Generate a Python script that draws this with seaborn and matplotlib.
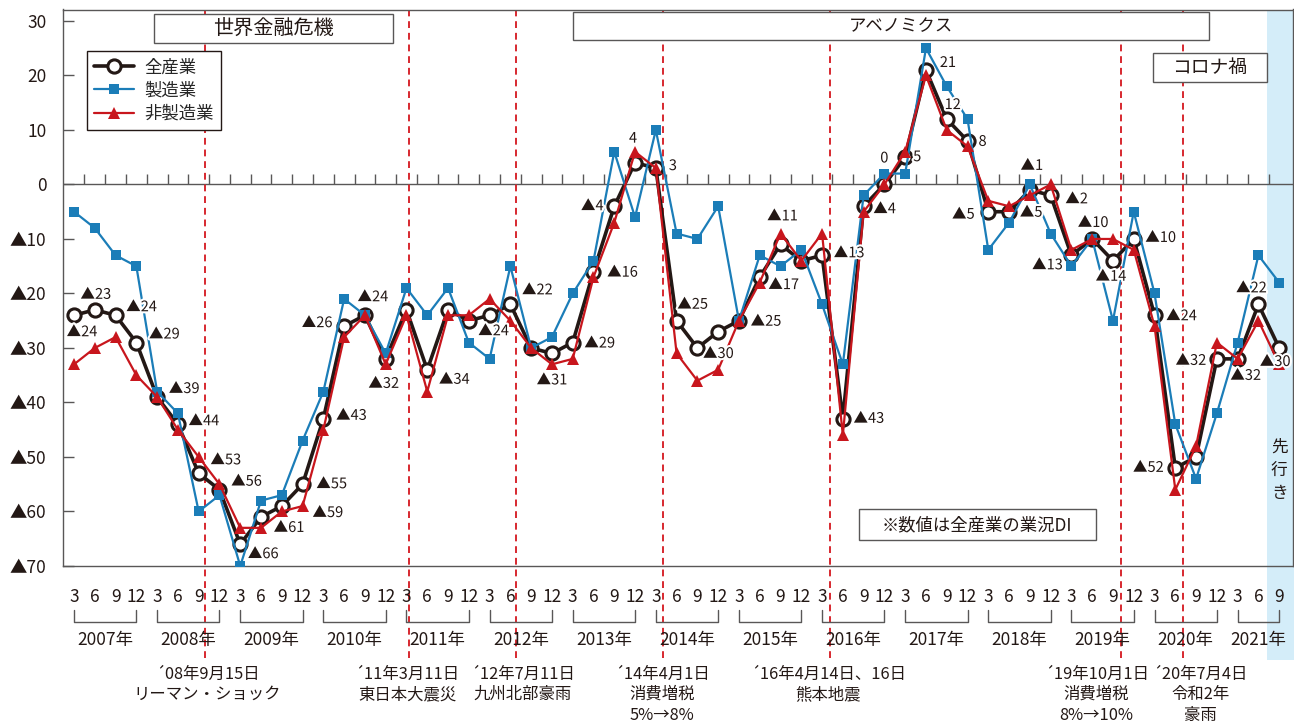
"""
plot.py

業況判断DI（全産業・製造業・非製造業）の推移を再現する。
"""

import matplotlib
matplotlib.use("Agg")
import matplotlib.pyplot as plt
import matplotlib.patheffects as pe
import matplotlib.transforms as mtransforms
from matplotlib.lines import Line2D
from matplotlib.patches import Rectangle
import numpy as np
import pandas as pd
import seaborn as sns

# --- data -------------------------------------------------------------
YEARS = list(range(2007, 2022))
MONTHS = ["3", "6", "9", "12"]
LAST_YEAR_MONTHS = ["3", "6", "9"]

ALL_IND = [-24, -23, -24, -29, -39, -44, -53, -56, -66, -61, -59, -55, -43, -26, -24,
           -32, -23, -34, -23, -25, -24, -22, -30, -31, -29, -16, -4, 4, 3, -25,
           -30, -27, -25, -17, -11, -14, -13, -43, -4, 0, 5, 21, 12, 8, -5,
           -5, -1, -2, -13, -10, -14, -10, -24, -52, -50, -32, -32, -22, -30]
MFG = [-5, -8, -13, -15, -38, -42, -60, -57, -70, -58, -57, -47, -38, -21, -24,
       -31, -19, -24, -19, -29, -32, -15, -30, -28, -20, -14, 6, -6, 10, -9,
       -10, -4, -25, -13, -15, -12, -22, -33, -2, 2, 2, 25, 18, 12, -12,
       -7, 0, -9, -15, -10, -25, -5, -20, -44, -54, -42, -29, -13, -18]
NON_MFG = [-33, -30, -28, -35, -39, -45, -50, -55, -63, -63, -60, -59, -45, -28, -24,
           -33, -24, -38, -24, -24, -21, -25, -30, -33, -32, -17, -7, 6, 3, -31,
           -36, -34, -25, -18, -9, -14, -9, -46, -5, 0, 6, 20, 10, 7, -3,
           -4, -2, 0, -12, -10, -10, -12, -26, -56, -48, -29, -32, -25, -33]

SERIES_NAMES = ["全産業", "製造業", "非製造業"]
Y_TICKS = [30, 20, 10, 0, -10, -20, -30, -40, -50, -60, -70]

# 全産業の値ラベルを付ける四半期（インデックス）
LABEL_IDX = [0, 1, 2, 3, 4, 5, 6, 7, 8, 9, 10, 11, 12, 13, 14, 15, 17, 20, 21, 23,
             24, 25, 26, 27, 28, 29, 30, 32, 33, 34, 36, 37, 38, 39, 40, 41, 42,
             43, 44, 45, 46, 47, 48, 49, 50, 51, 52, 53, 55, 56, 57, 58]

PERIODS = ["世界金融危機", "アベノミクス", "コロナ禍"]

EVENT_POS = [6.3, 16.12, 21.27, 28.33, 36.38, 50.37, 53.35]
EVENT_TEXT = [
    ["´08年9月15日", "リーマン・ショック"],
    ["´11年3月11日", "東日本大震災"],
    ["´12年7月11日", "九州北部豪雨"],
    ["´14年4月1日", "消費増税", "5%→8%"],
    ["´16年4月14日、16日", "熊本地震"],
    ["´19年10月1日", "消費増税", "8%→10%"],
    ["´20年7月4日", "令和2年", "豪雨"],
]

NOTE = "※数値は全産業の業況DI"
FORECAST = "先行き"

# --- layout / style -----------------------------------------------------
W_PX, H_PX = 1294, 724
BLACK = "#231815"
BLUE = "#1b7db8"
RED = "#c8161d"
DASH_RED = "#d7282f"
GRAY = "#595757"
BAND = "#d4edf9"

# ラベルのずらし量（px, 右・下）
LABEL_OFF = {
    0: (8, 17), 1: (1, -15), 2: (26, -8), 3: (28, -8), 4: (27, -8), 5: (26, -3),
    6: (27, -13), 7: (27, -8), 8: (23, 10), 9: (28, 11), 10: (46, 7), 11: (29, 0),
    12: (28, -3), 13: (-27, -3), 14: (8, -18), 15: (-2, 25), 17: (27, 10),
    20: (4, 16), 21: (27, -14), 23: (0, 27), 24: (27, 1), 25: (29, 1),
    26: (-22, 0), 27: (-2, -24), 28: (17, -2), 29: (16, -16), 30: (21, 6),
    32: (27, 1), 33: (24, 8), 34: (2, -28), 36: (27, -2), 37: (26, 0),
    38: (21, 3), 39: (0, -26), 40: (12, 0), 41: (22, -7), 42: (6, -14),
    43: (15, 1), 44: (-25, 3), 45: (22, 1), 46: (2, -24), 47: (26, 4),
    48: (-24, 10), 49: (1, -16), 50: (-2, 16), 51: (27, -1), 52: (27, 1),
    53: (-27, 0), 55: (-26, 2), 56: (8, 17), 57: (-7, -16), 58: (-4, 14),
}

# 期間ボックス (x0, x1, y0, y1, テキストx, テキストy, 文字サイズ)
PERIOD_BOX = [
    (3.85, 15.35, 26.0, 31.3, 9.6, 28.6, 14.5),
    (24.0, 54.6, 26.5, 31.65, 39.8, 29.0, 12.5),
    (51.92, 57.41, 18.8, 24.1, 54.67, 21.4, 13.5),
]
EVENT_TEXT_X = [6.42, 16.03, 21.6, 28.3, 36.3, 49.2, 54.2]


def fy(px):
    """画像の上からのピクセル位置 -> figure 座標"""
    return 1 - px / H_PX


def dlabel(v):
    return f"▲{abs(v)}" if v < 0 else str(v)


def build_frame():
    months = []
    years = []
    for y in YEARS:
        ms = LAST_YEAR_MONTHS if y == YEARS[-1] else MONTHS
        for m in ms:
            months.append(m)
            years.append(y)
    df = pd.DataFrame({"year": years, "month": months})
    df["pos"] = np.arange(len(df))
    df[SERIES_NAMES[0]] = ALL_IND
    df[SERIES_NAMES[1]] = MFG
    df[SERIES_NAMES[2]] = NON_MFG
    return df


def main():
    df = build_frame()

    sns.set_theme(style="white")
    plt.rcParams["font.family"] = ["Noto Sans CJK JP", "DejaVu Sans"]

    fig = plt.figure(figsize=(W_PX / 100, H_PX / 100), dpi=100)
    ax_l, ax_r, ax_t, ax_b = 63, 1292.5, 9.5, 566
    ax = fig.add_axes([ax_l / W_PX, fy(ax_b), (ax_r - ax_l) / W_PX, (ax_b - ax_t) / H_PX])
    trans = mtransforms.blended_transform_factory(ax.transData, fig.transFigure)

    # 先行きの帯
    ax.add_patch(Rectangle((57.41, fy(660)), 3, fy(ax_t) - fy(660), transform=trans,
                           facecolor=BAND, edgecolor="none", clip_on=False, zorder=0.3))

    # 出来事の縦線
    for p in EVENT_POS:
        ax.add_line(Line2D([p, p], [fy(658), fy(ax_t)], transform=trans, color=DASH_RED,
                           lw=1.4, ls=(0, (3.5, 2.5)), clip_on=False, zorder=1.5))

    # ゼロ線と四半期目盛
    ax.axhline(0, color=GRAY, lw=1, zorder=1)
    ax.vlines(np.arange(0.5, len(df) - 1, 1), 0, 2.0, color=GRAY, lw=1, zorder=1)

    # 系列
    sns.lineplot(data=df, x="pos", y=SERIES_NAMES[0], ax=ax, color=BLACK, lw=2.6,
                 marker="o", markersize=9.5, markerfacecolor="white",
                 markeredgecolor=BLACK, markeredgewidth=2.2, label=SERIES_NAMES[0], zorder=3)
    sns.lineplot(data=df, x="pos", y=SERIES_NAMES[1], ax=ax, color=BLUE, lw=1.6,
                 marker="s", markersize=7.5, markeredgecolor=BLUE, markeredgewidth=0,
                 label=SERIES_NAMES[1], zorder=4)
    sns.lineplot(data=df, x="pos", y=SERIES_NAMES[2], ax=ax, color=RED, lw=1.6,
                 marker="^", markersize=8, markeredgecolor=RED, markeredgewidth=0,
                 label=SERIES_NAMES[2], zorder=5)

    # 値ラベル
    halo = [pe.withStroke(linewidth=3, foreground="white")]
    for i in LABEL_IDX:
        v = ALL_IND[i]
        dx, dy = LABEL_OFF[i]
        ax.annotate(dlabel(v), (i, v), xytext=(dx, -dy), textcoords="offset pixels",
                    ha="center", va="center", fontsize=10.5, color=BLACK,
                    path_effects=halo, zorder=6)

    # 期間ボックス
    for name, (x0, x1, y0, y1, tx, ty, fs) in zip(PERIODS, PERIOD_BOX):
        ax.add_patch(Rectangle((x0, y0), x1 - x0, y1 - y0, facecolor="white",
                               edgecolor=GRAY, lw=1, zorder=2.5))
        ax.text(tx, ty, name, ha="center", va="center", fontsize=fs, color=BLACK, zorder=3)

    # 注記
    ax.add_patch(Rectangle((37.78, -65.2), 49.18 - 37.78, 5.7, facecolor="white",
                           edgecolor=GRAY, lw=1, zorder=2.5))
    ax.text(43.45, -62.5, NOTE, ha="center", va="center", fontsize=12.5, color=BLACK, zorder=3)

    # 先行き（縦書き）
    for k, ch in enumerate(FORECAST):
        ax.annotate(ch, (58, -52.4), xytext=(0, (1 - k) * 23), textcoords="offset pixels",
                    ha="center", va="center", fontsize=12, color=BLACK, zorder=3)

    # 凡例
    handles, labels = ax.get_legend_handles_labels()
    leg = ax.legend(handles, labels, loc="upper left", bbox_to_anchor=(0.0195, 0.925),
                    borderaxespad=0, fontsize=12.5, handlelength=2.3, handletextpad=0.6,
                    labelspacing=0.3, borderpad=0.4, fancybox=False, framealpha=1,
                    edgecolor=BLACK)
    leg.get_frame().set_linewidth(1)
    leg.set_zorder(10)

    # 軸
    ax.set_xlim(-0.53, 58.64)
    ax.set_ylim(-70, 32.1)
    ax.set_xticks([])
    ax.set_yticks(Y_TICKS)
    ax.set_yticklabels([dlabel(v) for v in Y_TICKS])
    ax.tick_params(axis="y", left=True, direction="in", length=8, width=1, color=GRAY,
                   pad=12, labelsize=12.5, labelcolor=BLACK)
    ax.set_xlabel("")
    ax.set_ylabel("")
    for sp in ax.spines.values():
        sp.set_color(GRAY)
        sp.set_linewidth(1)

    # 月・年の目盛（軸の下）
    for _, row in df.iterrows():
        ax.text(row["pos"], fy(597), row["month"], transform=trans, ha="center",
                va="center", fontsize=12.5, color=BLACK)
    for y, grp in df.groupby("year"):
        s, e = grp["pos"].min(), grp["pos"].max()
        ax.add_line(Line2D([s, s, e, e], [fy(610), fy(622), fy(622), fy(610)],
                           transform=trans, color=GRAY, lw=1, clip_on=False))
        ax.text((s + e) / 2 if len(grp) == 4 else e - 1, fy(640), f"{y}年", transform=trans,
                ha="center", va="center", fontsize=12.5, color=BLACK)

    # 出来事（最下行が切れないよう少し詰める）
    for x, lines in zip(EVENT_TEXT_X, EVENT_TEXT):
        for k, line in enumerate(lines):
            ax.text(x, fy(674 + 20.5 * k), line, transform=trans, ha="center",
                    va="center", fontsize=11.8, color=BLACK)

    fig.savefig("out.png", dpi=100)
    plt.close(fig)


if __name__ == "__main__":
    main()
